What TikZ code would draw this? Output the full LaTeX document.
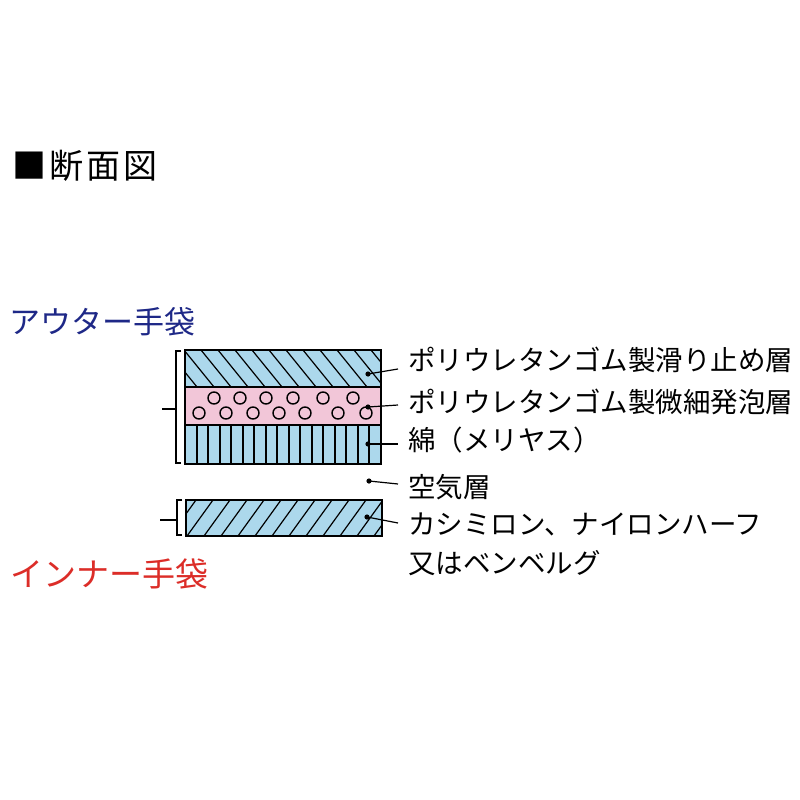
\documentclass[tikz,border=0pt]{standalone}
\usepackage{fontspec}
\setmainfont{Noto Sans CJK JP}
\newfontfamily\cjk{Noto Sans CJK JP}
\definecolor{layerblue}{RGB}{172,216,236}
\definecolor{layerpink}{RGB}{242,198,216}
\definecolor{navy}{RGB}{30,40,135}
\definecolor{redhead}{RGB}{220,45,40}
\tikzset{
  layer/.style={draw=black,line width=1.8pt},
  hatch/.style={line width=1.2pt},
  bubble/.style={line width=1.4pt},
  leader/.style={line width=1.2pt},
  dotmark/.style={fill=black},
  lbl/.style={anchor=west,inner sep=0pt,font=\cjk\fontsize{27.5}{27.5}\selectfont},
  brk/.style={line width=1.3pt},
}
\begin{document}
\begin{tikzpicture}[x=1pt,y=-1pt]
\useasboundingbox[fill=white] (0,0) rectangle (800,800);
% title and headings
\node[anchor=west,inner sep=0pt,font=\cjk\fontsize{34}{34}\selectfont] (title) at (12,166) {■\hspace{3pt}断\hspace{3pt}面\hspace{3pt}図};
\node[anchor=west,inner sep=0pt,text=navy,font=\cjk\fontsize{31}{31}\selectfont] (outer) at (9,322) {アウター手袋};
\node[anchor=west,inner sep=0pt,text=redhead,font=\cjk\fontsize{33}{33}\selectfont] (inner) at (10,574) {インナー手袋};
% outer glove layers
\fill[layerblue] (185,350) rectangle (381,387);
\fill[layerpink] (185,387) rectangle (381,425);
\fill[layerblue] (185,425) rectangle (381,464);
\begin{scope}
\clip (185,350) rectangle (381,387);
\foreach \i in {0,...,14} {
  \draw[hatch] (150+17*\i,350) -- (180+17*\i,387);
}
\end{scope}
\begin{scope}
\clip (185,425) rectangle (381,464);
\foreach \x in {197,208,220,231,243,254,266,277,289,300,312,323,335,346,358,369} {
  \draw[hatch] (\x,425) -- (\x,464);
}
\end{scope}
\foreach \x in {214,240,266,293,323,353} { \draw[bubble] (\x,398) circle (6); }
\foreach \x in {199,226,253,279,305,338,366} { \draw[bubble] (\x,413) circle (6); }
\draw[layer] (185,350) rectangle (381,464);
\draw[layer] (185,387) -- (381,387);
\draw[layer] (185,425) -- (381,425);
% inner glove layer
\fill[layerblue] (186,500) rectangle (382,536);
\begin{scope}
\clip (186,500) rectangle (382,536);
\foreach \i in {0,...,14} {
  \draw[hatch] (170+17*\i,536) -- (196+17*\i,500);
}
\end{scope}
\draw[layer] (186,500) rectangle (382,536);
% brackets
\draw[brk] (181,351) -- (176,351) -- (176,463) -- (181,463);
\draw[brk] (162,409) -- (176,409);
\draw[brk] (182,500) -- (177,500) -- (177,535) -- (182,535);
\draw[brk] (160,520) -- (177,520);
% labels
\node[lbl] (l1) at (408,360) {ポリウレタンゴム製滑り止め層};
\node[lbl] (l2) at (408,402) {ポリウレタンゴム製微細発泡層};
\node[lbl] (l3) at (408,440) {綿（メリヤス）};
\node[lbl] (l4) at (408,487) {空気層};
\node[lbl] (l5) at (408,524) {カシミロン、ナイロンハーフ};
\node[lbl] (l6) at (408,563) {又はベンベルグ};
% leaders
\coordinate (d1) at (368,374); \coordinate (e1) at (398,369);
\coordinate (d2) at (368,407); \coordinate (e2) at (398,405);
\coordinate (d3) at (368,444); \coordinate (e3) at (398,444);
\coordinate (d4) at (369,481); \coordinate (e4) at (398,484);
\coordinate (d5) at (367,517); \coordinate (e5) at (398,523);
\foreach \k in {1,...,5} {
  \fill[dotmark] (d\k) circle (2.6);
  \draw[leader] (d\k) -- (e\k);
}
\end{tikzpicture}
\end{document}
